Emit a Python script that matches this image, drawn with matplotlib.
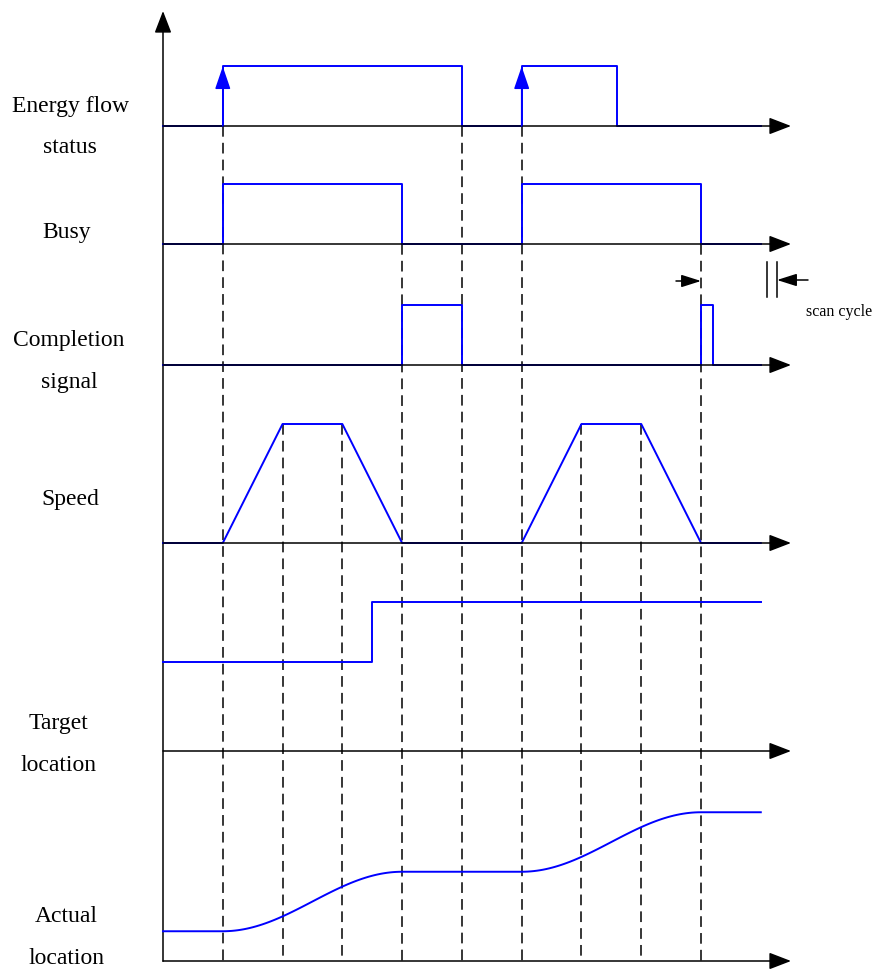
import numpy as np
import matplotlib
matplotlib.use("Agg")
import matplotlib.pyplot as plt

# event times (one unit = one dashed division)
event_times = [1, 2, 3, 4, 5, 6, 7, 8, 9]
t_end = 10

# signal edges / levels
energy_rise = [1, 6]
energy_fall = [5, 7.6]
busy_rise = [1, 6]
busy_fall = [4, 9]
done_rise = [4, 9]
done_fall = [5, 9.2]
speed_t = [0, 1, 2, 3, 4, 6, 7, 8, 9, 10]
speed_v = [0, 0, 2, 2, 0, 0, 2, 2, 0, 0]
target_step = 3.5
target_levels = [1.5, 2.5]
actual_moves = [(1, 4), (6, 9)]
actual_levels = [0.5, 1.5, 2.5]

labels = [["Energy flow", "status"], ["Busy"], ["Completion", "signal"],
          ["Speed"], ["Target", "location"], ["Actual", "location"]]

# layout (pixel rows)
W, H = 878, 972
x0, ux = 163, 59.78
u = 59.5
bases = [126, 244, 365, 543, 751, 961]
label_x = [70, 67, 69, 70, 58, 66]
label_y = [[112, 153], [238], [346, 388], [505], [729, 771], [922, 964]]

fig = plt.figure(figsize=(W / 100, H / 100), dpi=100)
ax = fig.add_axes([0, 0, 1, 1])
ax.set_xlim(-x0 / ux, (W - x0) / ux)
ax.set_ylim(H, 0)
ax.axis("off")

blue = "#0000ff"
lwb = 1.4
lwk = 1.1


def arrow(x1, y1, x2, y2, color, hl=1.35, hw=0.52):
    ax.annotate("", xy=(x2, y2), xytext=(x1, y1),
                arrowprops=dict(arrowstyle="-|>,head_length=%s,head_width=%s" % (hl, hw),
                                mutation_scale=10, color=color, lw=lwk,
                                shrinkA=0, shrinkB=0))


def step(rises, falls):
    xs, ys = [0], [0]
    for r, f in zip(rises, falls):
        xs += [r, r, f, f]
        ys += [0, 1, 1, 0]
    xs.append(t_end)
    ys.append(0)
    return np.array(xs), np.array(ys)


# axes
x_arrow = (791 - x0) / ux
ax.plot([0, 0], [bases[-1], 30], color="black", lw=lwk)
arrow(0, 30, 0, 11, "black")
for b in bases:
    arrow(0, b, x_arrow, b, "black")

# dashed event lines
dash_top = [bases[0], bases[3] - 2 * u, bases[3] - 2 * u, bases[1], bases[0],
            bases[0], bases[3] - 2 * u, bases[3] - 2 * u, bases[1]]
for t, top in zip(event_times, dash_top):
    ax.plot([t, t], [top, bases[-1]], color="black", lw=lwk, ls=(0, (7, 4)))

# energy flow
xs, ys = step(energy_rise, energy_fall)
ax.plot(xs, bases[0] - ys * u, color=blue, lw=lwb)
for r in energy_rise:
    arrow(r, bases[0], r, bases[0] - u, blue, hl=1.4, hw=0.48)

# busy
xs, ys = step(busy_rise, busy_fall)
ax.plot(xs, bases[1] - ys * u, color=blue, lw=lwb)

# completion
xs, ys = step(done_rise, done_fall)
ax.plot(xs, bases[2] - ys * u, color=blue, lw=lwb)

# speed
ax.plot(speed_t, bases[3] - np.array(speed_v) * u, color=blue, lw=lwb)

# target location
ax.plot([0, target_step, target_step, t_end],
        bases[4] - np.array([target_levels[0], target_levels[0],
                             target_levels[1], target_levels[1]]) * u,
        color=blue, lw=lwb)

# actual location (smooth moves)
ax_t, ax_y = [0], [actual_levels[0]]
for i, (a, b) in enumerate(actual_moves):
    s = np.linspace(0, 1, 60)
    ax_t += list(a + (b - a) * s)
    ax_y += list(actual_levels[i] + (actual_levels[i + 1] - actual_levels[i]) * (1 - np.cos(np.pi * s)) / 2)
ax_t.append(t_end)
ax_y.append(actual_levels[-1])
ax.plot(ax_t, bases[5] - np.array(ax_y) * u, color=blue, lw=lwb)

# scan cycle marker
sc1, sc2 = (767 - x0) / ux, (777 - x0) / ux
for xv in (sc1, sc2):
    ax.plot([xv, xv], [262, 297], color="black", lw=lwk)
arrow((676 - x0) / ux, 281, 9, 281, "black", hl=1.2, hw=0.38)
arrow((808 - x0) / ux, 280, sc2, 280, "black", hl=1.2, hw=0.38)
ax.text((806 - x0) / ux, 316, "scan cycle", fontsize=11.5, family="Liberation Serif",
        ha="left", va="baseline")

# labels
for lines, lx, lys in zip(labels, label_x, label_y):
    for txt, ly in zip(lines, lys):
        ax.text((lx - x0) / ux, ly, txt, fontsize=17, family="Liberation Serif",
                ha="center", va="baseline")

fig.savefig("out.png", dpi=100)
